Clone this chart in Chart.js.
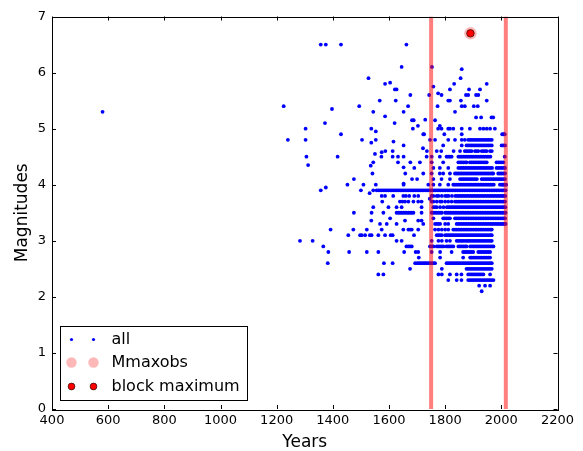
<!DOCTYPE html>
<html>
<head>
<meta charset="utf-8">
<script src="https://cdn.jsdelivr.net/npm/chart.js@4.4.0/dist/chart.umd.min.js"></script>
<style>
    html, body { margin: 0; padding: 0; background: #fff; }
    #wrap { width: 583px; height: 451px; }
</style>
</head>
<body>
<div id="wrap"><canvas id="quakeChart" width="583" height="451"></canvas></div>
<script>
// axis ticks
const xTickValues = [400, 600, 800, 1000, 1200, 1400, 1600, 1800, 2000, 2200];
const yTickValues = [0, 1, 2, 3, 4, 5, 6, 7];

// catalogue events that sit on the 0.1 magnitude rows
const rowMags = [2.1, 2.2, 2.3, 2.4, 2.5, 2.6, 2.7, 2.8, 2.9, 3.0, 3.1, 3.2, 3.3, 3.4, 3.5, 3.6, 3.7, 3.8, 3.9, 4.0, 4.1, 4.2, 4.3, 4.4, 4.5, 4.6, 4.7, 4.8, 4.9];
const rowYears = [
    [1930],
    [1921, 1942, 1960],
    [1811, 1841, 1858, 1882, 1888, 1894, 1900, 1906, 1912, 1918, 1924, 1930, 1936, 1942, 1948, 1954, 1960, 1966, 1972],
    [1776, 1788, 1817, 1841, 1858, 1882, 1888, 1894, 1900, 1906, 1912, 1918, 1924, 1930, 1936, 1960],
    [1675, 1788, 1876, 1882, 1888, 1894, 1900, 1906, 1912, 1918, 1924, 1930, 1936, 1942, 1948, 1954, 1960, 1966],
    [1382, 1582, 1613, 1693, 1700, 1706, 1712, 1718, 1724, 1729, 1735, 1741, 1747, 1753, 1759, 1764, 1805, 1811, 1817, 1823, 1829, 1835, 1841, 1847, 1853, 1859, 1865, 1871, 1877, 1883, 1889, 1895, 1901, 1907, 1913, 1919, 1925, 1931, 1937, 1943, 1949, 1955, 1961, 1966],
    [1706, 1782, 1864, 1889, 1894, 1900, 1906, 1912, 1918, 1924, 1930, 1936, 1942, 1948, 1954, 1960],
    [1384, 1458, 1521, 1562, 1654, 1695, 1704, 1752, 1782, 1823, 1864, 1870, 1876, 1882, 1888, 1894, 1900, 1918, 1924, 1930, 1936, 1942, 1948, 1954, 1960],
    [1366, 1662, 1669, 1675, 1681, 1746, 1752, 1758, 1770, 1776, 1782, 1788, 1794, 1805, 1811, 1817, 1823, 1829, 1847, 1853, 1859, 1865, 1871, 1876, 1889, 1895, 1901, 1907, 1913, 1919, 1925, 1931, 1937, 1943, 1949, 1955, 1961, 1967, 1972],
    [1283, 1328, 1627, 1645, 1752, 1776, 1788, 1805, 1817, 1841, 1847, 1853, 1859, 1864, 1871, 1877, 1883, 1889, 1895, 1901, 1907, 1913, 1919, 1925, 1931, 1937, 1943, 1949, 1955, 1961, 1966],
    [1455, 1497, 1503, 1515, 1532, 1538, 1562, 1586, 1606, 1613, 1689, 1770, 1776, 1782, 1788, 1800, 1806, 1812, 1818, 1824, 1830, 1836, 1842, 1848, 1854, 1860, 1866, 1872, 1878, 1884, 1890, 1896, 1902, 1908, 1914, 1920, 1926, 1932, 1938, 1944, 1950, 1956, 1962, 1966],
    [1392, 1473, 1521, 1574, 1651, 1669, 1675, 1681, 1704, 1764, 1776, 1788, 1800, 1811, 1829, 1835, 1841, 1847, 1853, 1859, 1865, 1871, 1877, 1883, 1889, 1895, 1901, 1907, 1913, 1919, 1925, 1931, 1937, 1943, 1949, 1955, 1961, 1966],
    [1568, 1592, 1627, 1722, 1764, 1770, 1776, 1782, 1800, 1811, 1841, 1847, 1853, 1859, 1865, 1871, 1877, 1883, 1889, 1895, 1901, 1907, 1913, 1919, 1925, 1931, 1937, 1943, 1949, 1955, 1961, 1966, 1972, 1978, 1984, 1990, 1996, 2001, 2006, 2011, 2015],
    [1604, 1758, 1793, 1799, 1805, 1811, 1817, 1835, 1841, 1847, 1853, 1859, 1865, 1871, 1877, 1883, 1889, 1895, 1901, 1907, 1913, 1919, 1925, 1931, 1937, 1943, 1949, 1955, 1961, 1967, 1973, 1979, 1985, 1991, 1997, 2003, 2009, 2013],
    [1475, 1538, 1580, 1627, 1633, 1639, 1645, 1651, 1657, 1663, 1669, 1675, 1681, 1687, 1716, 1752, 1758, 1764, 1770, 1776, 1782, 1788, 1800, 1806, 1812, 1818, 1824, 1830, 1836, 1842, 1848, 1854, 1860, 1866, 1872, 1878, 1884, 1890, 1896, 1902, 1908, 1914, 1920, 1926, 1932, 1938, 1944, 1950, 1956, 1962, 1968, 1974, 1980, 1986, 1992, 1998, 2004, 2010, 2015],
    [1544, 1598, 1627, 1645, 1716, 1758, 1764, 1770, 1782, 1794, 1806, 1812, 1818, 1824, 1830, 1836, 1842, 1848, 1854, 1860, 1866, 1872, 1878, 1884, 1890, 1896, 1902, 1908, 1914, 1920, 1926, 1932, 1938, 1944, 1950, 1956, 1962, 1968, 1974, 1980, 1986, 1992, 1998, 2004, 2009, 2014],
    [1576, 1639, 1648, 1657, 1669, 1687, 1704, 1716, 1752, 1758, 1770, 1782, 1788, 1800, 1811, 1823, 1835, 1841, 1847, 1853, 1859, 1865, 1871, 1877, 1883, 1889, 1895, 1901, 1907, 1913, 1919, 1925, 1931, 1937, 1943, 1949, 1955, 1961, 1967, 1973, 1979, 1985, 1991, 1997, 2003, 2008, 2013],
    [1574, 1586, 1615, 1651, 1660, 1672, 1690, 1704, 1752, 1758, 1770, 1776, 1788, 1800, 1806, 1812, 1824, 1836, 1842, 1848, 1854, 1860, 1866, 1872, 1878, 1884, 1890, 1896, 1902, 1908, 1914, 1920, 1926, 1932, 1938, 1944, 1950, 1956, 1962, 1968, 1974, 1980, 1986, 1992, 1998, 2004, 2009, 2014],
    [1500, 1544, 1556, 1562, 1568, 1574, 1580, 1586, 1592, 1598, 1604, 1610, 1616, 1622, 1628, 1634, 1640, 1646, 1652, 1658, 1664, 1670, 1676, 1682, 1688, 1694, 1700, 1706, 1712, 1718, 1724, 1730, 1736, 1742, 1748, 1754, 1760, 1766, 1772, 1778, 1784, 1790, 1796, 1802, 1808, 1814, 1820, 1826, 1832, 1838, 1844, 1850, 1856, 1862, 1868, 1874, 1880, 1886, 1892, 1898, 1904, 1910, 1916, 1922, 1928, 1934, 1940, 1946, 1952, 1958, 1964, 1970, 1976, 1982, 1988, 1994, 2000, 2005, 2010, 2015],
    [1452, 1509, 1553, 1652, 1740, 1758, 1781, 1811, 1829, 1835, 1841, 1847, 1853, 1859, 1865, 1871, 1877, 1883, 1889, 1895, 1901, 1907, 1913, 1919, 1925, 1931, 1937, 1943, 1949, 1955, 1961, 1967, 1973, 1995, 2001, 2005, 2009, 2013, 2017],
    [1475, 1682, 1700, 1758, 1787, 1817, 1853, 1859, 1865, 1871, 1877, 1883, 1889, 1895, 1901, 1907, 1913, 1930, 1936, 1942, 1948, 1954, 1960, 1966, 1972, 1978, 1984, 1990, 1995, 2001, 2007, 2013],
    [1541, 1658, 1722, 1752, 1781, 1793, 1817, 1835, 1841, 1847, 1853, 1859, 1865, 1871, 1877, 1883, 1889, 1895, 1901, 1907, 1913, 1919, 1925, 1931, 1937, 1943, 1949, 1955, 1961, 1967, 1971, 1989, 1995, 2001, 2007, 2013],
    [1690, 1758, 1781, 1811, 1847, 1853, 1859, 1865, 1871, 1877, 1883, 1889, 1895, 1901, 1907, 1913, 1919, 1925, 1931, 1937, 1943, 1949, 1955, 1961, 1967, 1983, 1989, 1995, 2001, 2007, 2013],
    [1544, 1632, 1676, 1710, 1752, 1793, 1847, 1853, 1859, 1865, 1871, 1876, 1888, 1894, 1900, 1906, 1912, 1918, 1924, 1930, 1936, 1942, 1948, 1983, 1989, 1995, 2001, 2007],
    [1306, 1417, 1573, 1613, 1632, 1652, 1734, 1752, 1781, 1805, 1811, 1817, 1823, 1847, 1853, 1859, 1865, 1871, 1877, 1883, 1889, 1895, 1901, 1907, 1913, 1919, 1925, 1931, 1937, 1943, 1949, 1955, 1961, 2012],
    [1587, 1735, 1770, 1786, 1830, 1853, 1870, 1876, 1882, 1888, 1894, 1906, 1912, 1918, 1930, 1936, 1942, 1948, 1960, 1966],
    [1652, 1793, 1859, 1876, 1882, 1888, 1894, 1900, 1906, 1912, 1918, 1924, 1930, 1936, 1942, 1948, 1954, 1960, 1966, 2001, 2007, 2013],
    [1240, 1303, 1504, 1553, 1746, 1764, 1811, 1835, 1859, 1870, 1882, 1888, 1894, 1900, 1906, 1912, 1918, 1924, 1930, 1936, 1942, 1948, 1954, 1960, 1966],
    [1429, 1722, 1725, 1797, 1859, 2003, 2008, 2012]
];

// scattered events off the rows
const sparseYears = [580, 1225, 1303, 1312, 1357, 1375, 1429, 1357, 1375, 1372, 1397, 1494, 1527, 1537, 1537, 1535, 1544, 1553, 1550, 1531,
    1537, 1562, 1580, 1567, 1586, 1604, 1586, 1574, 1613, 1616, 1620, 1621, 1627, 1624, 1645, 1652, 1652, 1652, 1657, 1662,
    1668, 1676, 1682, 1688, 1685, 1703, 1704, 1716, 1721, 1729, 1743, 1753, 1859, 1855, 1832, 1948, 1758, 1817, 1885, 1924,
    1775, 1787, 1874, 1882, 1910, 1918, 1811, 1817, 1856, 1948, 1773, 1859, 1870, 1902, 1916, 1835, 1910, 1928, 1965, 1971,
    1764, 1775, 1781, 1787, 1811, 1817, 1829, 1859, 1888, 1924, 1936, 1948, 1960, 1977, 1745];
const sparseMags = [5.3, 5.4, 5.0, 4.35, 6.5, 6.5, 6.5, 3.9, 3.95, 5.1, 5.35, 5.4, 5.9, 5.0, 4.75, 4.34, 5.3, 4.95, 4.55, 3.85,
    3.36, 2.4, 2.4, 5.5, 5.8, 5.82, 5.22, 4.58, 4.6, 4.77, 5.1, 5.7, 5.7, 5.5, 6.1, 5.3, 4.31, 4.02, 3.36, 6.5,
    5.4, 5.6, 5.15, 5.15, 5.0, 5.05, 3.36, 3.36, 4.65, 5.16, 5.6, 6.1, 6.06, 5.9, 5.8, 5.8, 5.75, 5.7, 5.7, 5.7,
    5.63, 5.6, 5.6, 5.6, 5.6, 5.6, 5.5, 5.5, 5.5, 5.5, 5.4, 5.4, 5.4, 5.4, 5.4, 5.3, 5.2, 5.2, 5.2, 5.2,
    5.15, 5.0, 5.05, 5.0, 5.0, 5.0, 5.0, 5.0, 5.0, 5.0, 5.0, 5.0, 5.0, 5.0, 3.75];

// largest observed event and the block maximum
const mmaxYear = 1890;
const mmaxMag = 6.7;

// window limits (vertical lines)
const windowYears = [1750, 2016];

const allPoints = [];
rowMags.forEach((m, i) => {
    rowYears[i].forEach(yr => allPoints.push({ x: yr, y: m }));
});
sparseYears.forEach((yr, i) => allPoints.push({ x: yr, y: sparseMags[i] }));

const FONT = '"DejaVu Sans", "Liberation Sans", sans-serif';

// matplotlib style frame, inward ticks and legend
const framePlugin = {
    id: 'frame',
    afterDraw(chart) {
        const { ctx, chartArea: a, scales: { x, y } } = chart;
        ctx.save();
        ctx.strokeStyle = '#000';
        ctx.lineWidth = 1;
        ctx.beginPath();
        xTickValues.forEach(v => {
            const px = Math.round(x.getPixelForValue(v)) + 0.5;
            ctx.moveTo(px, a.bottom); ctx.lineTo(px, a.bottom - 4);
            ctx.moveTo(px, a.top); ctx.lineTo(px, a.top + 4);
        });
        yTickValues.forEach(v => {
            const py = Math.round(y.getPixelForValue(v)) + 0.5;
            ctx.moveTo(a.left, py); ctx.lineTo(a.left + 4, py);
            ctx.moveTo(a.right, py); ctx.lineTo(a.right - 4, py);
        });
        ctx.stroke();
        ctx.strokeRect(Math.round(a.left) + 0.5, Math.round(a.top) + 0.5,
            Math.round(a.right - a.left), Math.round(a.bottom - a.top));

        // legend box
        const bx = Math.round(a.left) + 8.5, bw = 187, bh = 74;
        const by = Math.round(a.bottom) - 8.5 - bh;
        ctx.fillStyle = '#fff';
        ctx.fillRect(bx, by, bw, bh);
        ctx.strokeRect(bx, by, bw, bh);

        const rows = [
            { label: 'all', dy: 13 },
            { label: 'Mmaxobs', dy: 36 },
            { label: 'block maximum', dy: 60 }
        ];
        rows.forEach((r, i) => {
            const cy = by + r.dy;
            [bx + 11, bx + 33].forEach(mx => {
                ctx.beginPath();
                if (i === 0) {
                    ctx.fillStyle = '#0000ff';
                    ctx.arc(mx, cy, 1.6, 0, Math.PI * 2);
                    ctx.fill();
                } else if (i === 1) {
                    ctx.fillStyle = 'rgba(255, 0, 0, 0.28)';
                    ctx.arc(mx, cy, 5.2, 0, Math.PI * 2);
                    ctx.fill();
                } else {
                    ctx.fillStyle = '#ff0000';
                    ctx.strokeStyle = '#000';
                    ctx.lineWidth = 0.6;
                    ctx.arc(mx, cy, 3.4, 0, Math.PI * 2);
                    ctx.fill();
                    ctx.stroke();
                }
            });
            ctx.fillStyle = '#000';
            ctx.font = '16px ' + FONT;
            ctx.textBaseline = 'middle';
            ctx.textAlign = 'left';
            ctx.fillText(r.label, bx + 51, cy);
        });
        ctx.restore();
    }
};

new Chart(document.getElementById('quakeChart').getContext('2d'), {
    type: 'scatter',
    data: {
        datasets: [
            {
                label: 'block maximum',
                data: [{ x: mmaxYear, y: mmaxMag }],
                backgroundColor: '#ff0000',
                borderColor: '#000',
                borderWidth: 0.6,
                pointRadius: 3.8,
                order: 0
            },
            {
                label: 'Mmaxobs',
                data: [{ x: mmaxYear, y: mmaxMag }],
                backgroundColor: 'rgba(255, 0, 0, 0.28)',
                borderWidth: 0,
                pointRadius: 6.2,
                order: 1
            },
            {
                type: 'line',
                label: 'start',
                data: [{ x: windowYears[0], y: 0 }, { x: windowYears[0], y: 7 }],
                borderColor: 'rgba(255, 0, 0, 0.5)',
                borderWidth: 4,
                pointRadius: 0,
                order: 2
            },
            {
                type: 'line',
                label: 'end',
                data: [{ x: windowYears[1], y: 0 }, { x: windowYears[1], y: 7 }],
                borderColor: 'rgba(255, 0, 0, 0.5)',
                borderWidth: 4,
                pointRadius: 0,
                order: 2
            },
            {
                label: 'all',
                data: allPoints,
                backgroundColor: '#0000ff',
                borderWidth: 0,
                pointRadius: 1.9,
                order: 3
            }
        ]
    },
    options: {
        responsive: false,
        animation: false,
        events: [],
        layout: { padding: { top: 16.5, right: 25.5, left: 0, bottom: 0 } },
        plugins: { legend: { display: false }, tooltip: { enabled: false } },
        scales: {
            x: {
                type: 'linear',
                min: 400,
                max: 2200,
                grid: { display: false, drawTicks: false },
                border: { display: false },
                afterBuildTicks: s => { s.ticks = xTickValues.map(v => ({ value: v })); },
                afterFit: s => { s.height = 42; },
                ticks: { color: '#000', padding: 4, maxRotation: 0, font: { family: FONT, size: 13 }, callback: v => String(v) },
                title: { display: true, text: 'Years', color: '#000', padding: { top: 0, bottom: -2 }, font: { family: FONT, size: 17 } }
            },
            y: {
                min: 0,
                max: 7,
                grid: { display: false, drawTicks: false },
                border: { display: false },
                afterBuildTicks: s => { s.ticks = yTickValues.map(v => ({ value: v })); },
                afterFit: s => { s.width = 52; },
                ticks: { color: '#000', padding: 6, font: { family: FONT, size: 13 }, callback: v => String(v) },
                title: { display: true, text: 'Magnitudes', color: '#000', padding: { top: 12, bottom: 0 }, font: { family: FONT, size: 17 } }
            }
        }
    },
    plugins: [framePlugin]
});
</script>
</body>
</html>
